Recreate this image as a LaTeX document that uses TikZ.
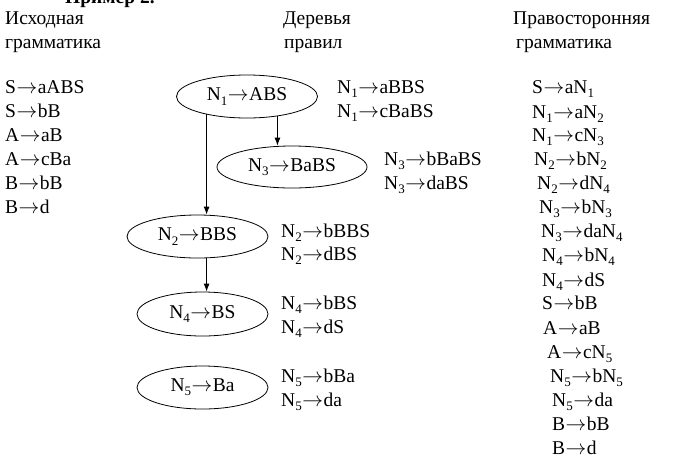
\documentclass[tikz,border=0pt]{standalone}
\usepackage{fontspec}
\setmainfont{Liberation Serif}
\usetikzlibrary{shapes.geometric,arrows.meta}
\newcommand{\sbs}[1]{\raisebox{-0.22em}{\fontsize{13}{13}\selectfont #1}}
\newcommand{\Nn}[1]{N\sbs{#1}}
\newcommand{\rarr}{\kern0.5pt$\mathsurround=0pt\rightarrow$\kern0.5pt}
\begin{document}
\begin{tikzpicture}[x=1pt,y=-1pt,
  every node/.style={font=\fontsize{19.5}{24}\selectfont},
  txt/.style={anchor=base west,inner sep=0pt},
  rule/.style={draw,ellipse,line width=0.8pt,inner sep=0pt},
  arr/.style={line width=0.9pt,-{Latex[length=8pt,width=6pt]}}]
\useasboundingbox[clip] (0,0) rectangle (676,464);
% cut-off heading
\node[txt,font=\fontsize{19.5}{24}\selectfont\bfseries] (hd) at (65,3) {Пример 2.};
% headers
\node[txt] (h1a) at (5,24.5) {Исходная};
\node[txt] (h1b) at (5,48.5) {грамматика};
\node[txt] (h2a) at (283,24.5) {Деревья};
\node[txt] (h2b) at (284,48.5) {правил};
\node[txt] (h3a) at (513,24.5) {Правосторонняя};
\node[txt] (h3b) at (516,48.5) {грамматика};
% source grammar
\node[txt] (g1) at (5,93) {S\rarr aABS};
\node[txt] (g2) at (5,117) {S\rarr bB};
\node[txt] (g3) at (5,141) {A\rarr aB};
\node[txt] (g4) at (5,165) {A\rarr cBa};
\node[txt] (g5) at (5,189) {B\rarr bB};
\node[txt] (g6) at (5,213) {B\rarr d};
% trees
\node[rule,minimum width=141pt,minimum height=43pt] (n1) at (247,96.5) {\Nn1\rarr ABS};
\node[rule,minimum width=150pt,minimum height=42pt] (n3) at (292,167) {\Nn3\rarr BaBS};
\node[rule,minimum width=141pt,minimum height=43pt] (n2) at (197.5,236.5) {\Nn2\rarr BBS};
\node[rule,minimum width=131pt,minimum height=44pt] (n4) at (202.5,314) {\Nn4\rarr BS};
\node[rule,minimum width=131pt,minimum height=43pt] (n5) at (202.5,387.5) {\Nn5\rarr Ba};
\draw[arr] (n1.-33) -- (n1.-33 |- n3.north);
\draw[arr] (n1.-156) -- (n1.-156 |- n2.north);
\draw[arr] (n2.south -| n1.-156) -- (n4.north -| n1.-156);
% tree labels
\node[txt] (l1a) at (337,93.5) {\Nn1\rarr aBBS};
\node[txt] (l1b) at (337,117.5) {\Nn1\rarr cBaBS};
\node[txt] (l3a) at (384,165.5) {\Nn3\rarr bBaBS};
\node[txt] (l3b) at (384,189.5) {\Nn3\rarr daBS};
\node[txt] (l2a) at (281,237.5) {\Nn2\rarr bBBS};
\node[txt] (l2b) at (281,260.5) {\Nn2\rarr dBS};
\node[txt] (l4a) at (281,309.5) {\Nn4\rarr bBS};
\node[txt] (l4b) at (281,333.5) {\Nn4\rarr dS};
\node[txt] (l5a) at (281,382.5) {\Nn5\rarr bBa};
\node[txt] (l5b) at (281,406.5) {\Nn5\rarr da};
% right grammar
\node[txt] (r1) at (532,93.5) {S\rarr a\Nn1};
\node[txt] (r2) at (532,118.5) {\Nn1\rarr a\Nn2};
\node[txt] (r3) at (532,141.5) {\Nn1\rarr c\Nn3};
\node[txt] (r4) at (534,165.5) {\Nn2\rarr b\Nn2};
\node[txt] (r5) at (537,189.5) {\Nn2\rarr d\Nn4};
\node[txt] (r6) at (539,213.5) {\Nn3\rarr b\Nn3};
\node[txt] (r7) at (541,237.5) {\Nn3\rarr da\Nn4};
\node[txt] (r8) at (542,261.5) {\Nn4\rarr b\Nn4};
\node[txt] (r9) at (542,286.5) {\Nn4\rarr dS};
\node[txt] (r10) at (542,309.5) {S\rarr bB};
\node[txt] (r11) at (543,334.5) {A\rarr aB};
\node[txt] (r12) at (547,358.5) {A\rarr c\Nn5};
\node[txt] (r13) at (550,382.5) {\Nn5\rarr b\Nn5};
\node[txt] (r14) at (552,406.5) {\Nn5\rarr da};
\node[txt] (r15) at (552,430.5) {B\rarr bB};
\node[txt] (r16) at (552,454.5) {B\rarr d};
\end{tikzpicture}
\end{document}
